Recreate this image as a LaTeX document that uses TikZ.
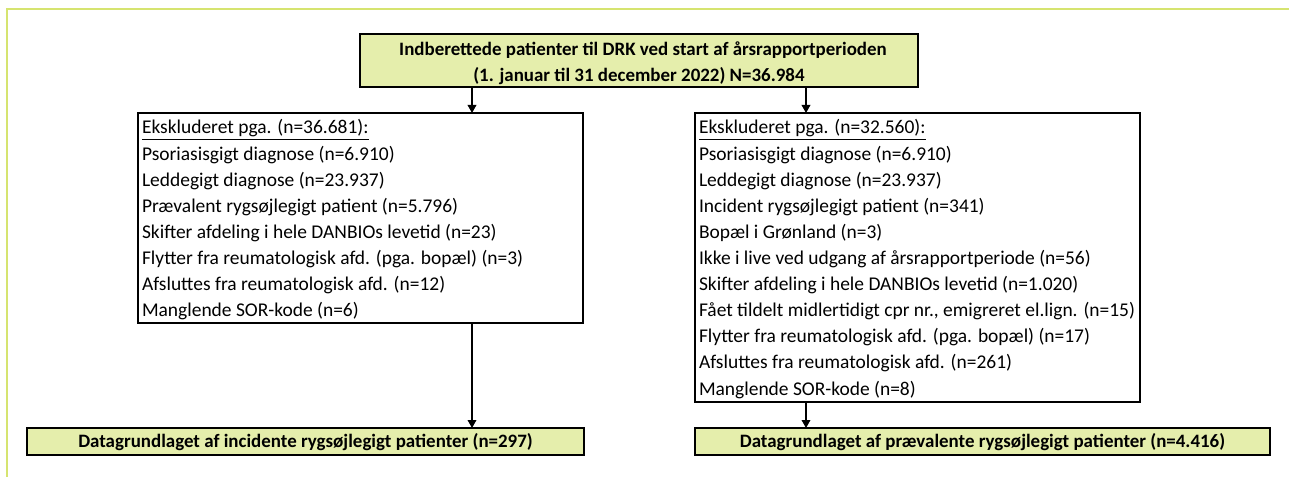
\documentclass[tikz,border=0pt]{standalone}
\usepackage{fontspec}
\setmainfont{Carlito}
\usetikzlibrary{arrows.meta}
\definecolor{framegreen}{RGB}{214,228,112}
\definecolor{boxfill}{RGB}{229,238,172}
\begin{document}
\begin{tikzpicture}[x=0.75pt,y=-0.75pt,
  every node/.style={font=\fontsize{14.6}{17}\selectfont, inner sep=0pt, outer sep=0pt},
  greenbox/.style={draw=black, line width=1.6pt, fill=boxfill, rectangle},
  listbox/.style={draw=black, line width=1.5pt, fill=white, rectangle},
  boldtext/.style={font=\fontsize{14.2}{17}\selectfont\bfseries, anchor=base},
  listline/.style={anchor=base west},
  flow/.style={line width=1pt, -{Triangle[length=6pt,width=6.5pt]}}]
\useasboundingbox (0,0) rectangle (1289,477);
% outer frame (left and top edges)
\draw[framegreen, line width=1.6pt] (7,477) -- (7,9) -- (1289,9);

% starting population
\node[greenbox, minimum width=418.5pt, minimum height=39.75pt] (top) at (639,60.5) {};
\node[boldtext] (topa) at (643,55.5) {Indberettede patienter til DRK ved start af årsrapportperioden};
\node[boldtext] (topb) at (639,82) {(1. januar til 31 december 2022) N=36.984};

% exclusion boxes
\node[listbox, minimum width=333.75pt, minimum height=157.5pt] (lbox) at (360.5,218) {};
\node[listbox, minimum width=333.75pt, minimum height=216.75pt] (rbox) at (917.5,257.5) {};

\foreach \t [count=\i from 0] in {
  {\underline{Ekskluderet pga. (n=36.681):}},
  {Psoriasisgigt diagnose (n=6.910)},
  {Leddegigt diagnose (n=23.937)},
  {Prævalent rygsøjlegigt patient (n=5.796)},
  {Skifter afdeling i hele DANBIOs levetid (n=23)},
  {Flytter fra reumatologisk afd. (pga. bopæl) (n=3)},
  {Afsluttes fra reumatologisk afd. (n=12)},
  {Manglende SOR-kode (n=6)}}
  \node[listline] (la\i) at (142,{134+\i*26.1}) {\t};

\foreach \t [count=\i from 0] in {
  {\underline{Ekskluderet pga. (n=32.560):}},
  {Psoriasisgigt diagnose (n=6.910)},
  {Leddegigt diagnose (n=23.937)},
  {Incident rygsøjlegigt patient (n=341)},
  {Bopæl i Grønland (n=3)},
  {Ikke i live ved udgang af årsrapportperiode (n=56)},
  {Skifter afdeling i hele DANBIOs levetid (n=1.020)},
  {Fået tildelt midlertidigt cpr nr., emigreret el.lign. (n=15)},
  {Flytter fra reumatologisk afd. (pga. bopæl) (n=17)},
  {Afsluttes fra reumatologisk afd. (n=261)},
  {Manglende SOR-kode (n=8)}}
  \node[listline] (lb\i) at (699,{134+\i*26.1}) {\t};

% resulting data sets
\node[greenbox, minimum width=417.75pt, minimum height=20.25pt] (ldata) at (305.5,441.5) {};
\node[boldtext] (ldatat) at (305.5,447) {Datagrundlaget af incidente rygsøjlegigt patienter (n=297)};
\node[greenbox, minimum width=431.25pt, minimum height=20.25pt] (rdata) at (982.5,441.5) {};
\node[boldtext] (rdatat) at (982.5,447) {Datagrundlaget af prævalente rygsøjlegigt patienter (n=4.416)};

% connectors
\coordinate (ax) at (472,0);
\coordinate (bx) at (806,0);
\draw[flow] (top.south -| ax) -- (lbox.north -| ax);
\draw[flow] (top.south -| bx) -- (rbox.north -| bx);
\draw[flow] (lbox.south -| ax) -- (ldata.north -| ax);
\draw[flow] (rbox.south -| bx) -- (rdata.north -| bx);
\end{tikzpicture}
\end{document}
